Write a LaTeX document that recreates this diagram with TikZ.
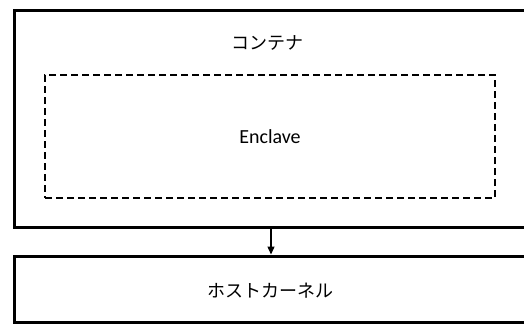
\documentclass[tikz,border=0pt]{standalone}
\usepackage{fontspec}
\setmainfont{Carlito}
\newfontfamily\jp{Noto Sans CJK JP}
\usetikzlibrary{arrows.meta}
\begin{document}
\begin{tikzpicture}[x=1pt,y=-1pt,
  boxstyle/.style={draw=black,line width=3pt,rectangle,inner sep=0pt},
  encstyle/.style={draw=black,line width=2.4pt,dash pattern=on 7pt off 4pt,rectangle,inner sep=0pt},
  jptext/.style={font=\jp\fontsize{18}{20}\selectfont,inner sep=0pt},
  entext/.style={font=\fontsize{20}{22}\selectfont,inner sep=0pt},
  conn/.style={draw=black,line width=1.4pt,-{Triangle[length=8pt,width=7pt]}}]
\useasboundingbox[fill=white] (0,0) rectangle (524,324);
\node[boxstyle,minimum width=516pt,minimum height=217pt] (outer) at (272,118.5) {};
\node[encstyle,minimum width=450pt,minimum height=123pt] (encl) at (270,136.5) {};
\node[boxstyle,minimum width=516pt,minimum height=66pt] (host) at (272,289) {};
\node[jptext] (ct) at (267,43) {コンテナ};
\node[entext] (et) at (270,137) {Enclave};
\node[jptext] (ht) at (270,291) {ホストカーネル};
\coordinate (ax) at (271,0);
\draw[conn] (outer.south -| ax) -- (host.north -| ax);
\end{tikzpicture}
\end{document}
